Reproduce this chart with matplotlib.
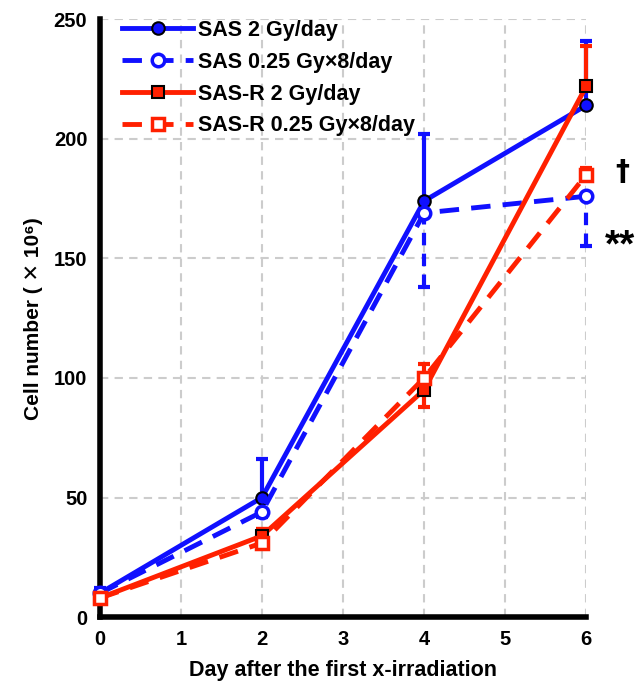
import matplotlib
matplotlib.use("Agg")
import matplotlib.pyplot as plt

plt.rcParams['font.family'] = ['Liberation Sans', 'DejaVu Sans']

days = [0, 2, 4, 6]
sas_2gy = [10, 50, 174, 214]
sas_2gy_err_up = [2, 16, 28, 27]
sas_025 = [10, 44, 169, 176]
sas_025_err_dn = [1, 2, 31, 21]
sasr_2gy = [8, 34, 95, 222]
sasr_2gy_err_dn = [0, 0, 7, 0]
sasr_2gy_err_up = [0, 3, 0, 17]
sasr_025 = [8, 31, 100, 185]
sasr_025_err_up = [1, 6, 6, 3]

labels = ["SAS 2 Gy/day", "SAS 0.25 Gy\u00d78/day", "SAS-R 2 Gy/day", "SAS-R 0.25 Gy\u00d78/day"]
xticks = [0, 1, 2, 3, 4, 5, 6]
yticks = [0, 50, 100, 150, 200, 250]

blue = '#1010ff'
red = '#ff2000'

fig = plt.figure(figsize=(6.4, 6.88), dpi=100)
ax = fig.add_axes([0.156, 0.103, 0.760, 0.869])

ebkw = dict(lw=3, capsize=4.5, capthick=3, elinewidth=3, zorder=3, fmt='none', clip_on=False)
eb1 = ax.errorbar(days, sas_2gy, yerr=[[0]*4, sas_2gy_err_up], color=blue, **ebkw)
eb2 = ax.errorbar(days, sas_025, yerr=[sas_025_err_dn, [0]*4], color=blue, **ebkw)
eb2[2][0].set_linestyle((0, (3, 2)))
eb3 = ax.errorbar(days, sasr_2gy, yerr=[sasr_2gy_err_dn, sasr_2gy_err_up], color=red, **ebkw)
eb4 = ax.errorbar(days, sasr_025, yerr=[[0]*4, sasr_025_err_up], color=red, **ebkw)
for eb in (eb1, eb2, eb3, eb4):
    for c in eb[1]:
        c.set_clip_on(False)
    for c in eb[2]:
        c.set_clip_on(False)

l1, = ax.plot(days, sas_2gy, color=blue, lw=3.5, marker='o', ms=9, mfc=blue, mec='black',
              mew=1.5, label=labels[0], zorder=4, clip_on=False)
l2, = ax.plot(days, sas_025, color=blue, lw=3.5, ls=(0, (4, 2.5)), marker='o', ms=9, mfc='white',
              mec=blue, mew=2.5, label=labels[1], zorder=4, clip_on=False)
l3, = ax.plot(days, sasr_2gy, color=red, lw=3.5, marker='s', ms=9, mfc=red, mec='black',
              mew=1.5, label=labels[2], zorder=4, clip_on=False)
l4, = ax.plot(days, sasr_025, color=red, lw=3.5, ls=(0, (4, 2.5)), marker='s', ms=9, mfc='white',
              mec=red, mew=2.5, label=labels[3], zorder=5, clip_on=False)

ax.set_xlim(0, 6)
ax.set_ylim(0, 250)
ax.set_xticks(xticks)
ax.set_yticks(yticks)
ax.grid(True, color='#cccccc', ls=(0, (4, 3)), lw=1.5)
ax.set_axisbelow(True)
for s in ['top', 'right']:
    ax.spines[s].set_visible(False)
for s in ['left', 'bottom']:
    ax.spines[s].set_linewidth(4)
    ax.spines[s].set_color('black')
ax.tick_params(length=0, labelsize=14.5, pad=9)
for t in ax.get_xticklabels() + ax.get_yticklabels():
    t.set_fontweight('bold')

ax.set_xlabel("Day after the first x-irradiation", fontsize=15.5, fontweight='bold', labelpad=8)
ax.set_ylabel("Cell number ( \u2715 10\u2076)", fontsize=15, fontweight='bold', labelpad=8,
              family=['Liberation Sans', 'DejaVu Sans'])

ax.text(6.44, 186, "\u2020", fontsize=20, fontweight='bold', ha='center', va='center',
        clip_on=False, family=['DejaVu Sans'])
ax.text(6.42, 155, "**", fontsize=28, fontweight='bold', ha='center', va='center', clip_on=False)

leg = ax.legend(handles=[l1, l2, l3, l4], loc='upper left', bbox_to_anchor=(0.015, 1.024),
                frameon=False, fontsize=15.5, handlelength=3.3, handletextpad=0.2,
                labelspacing=0.5, borderaxespad=0.3)
for t in leg.get_texts():
    t.set_fontweight('bold')

fig.savefig("out.png", dpi=100)
